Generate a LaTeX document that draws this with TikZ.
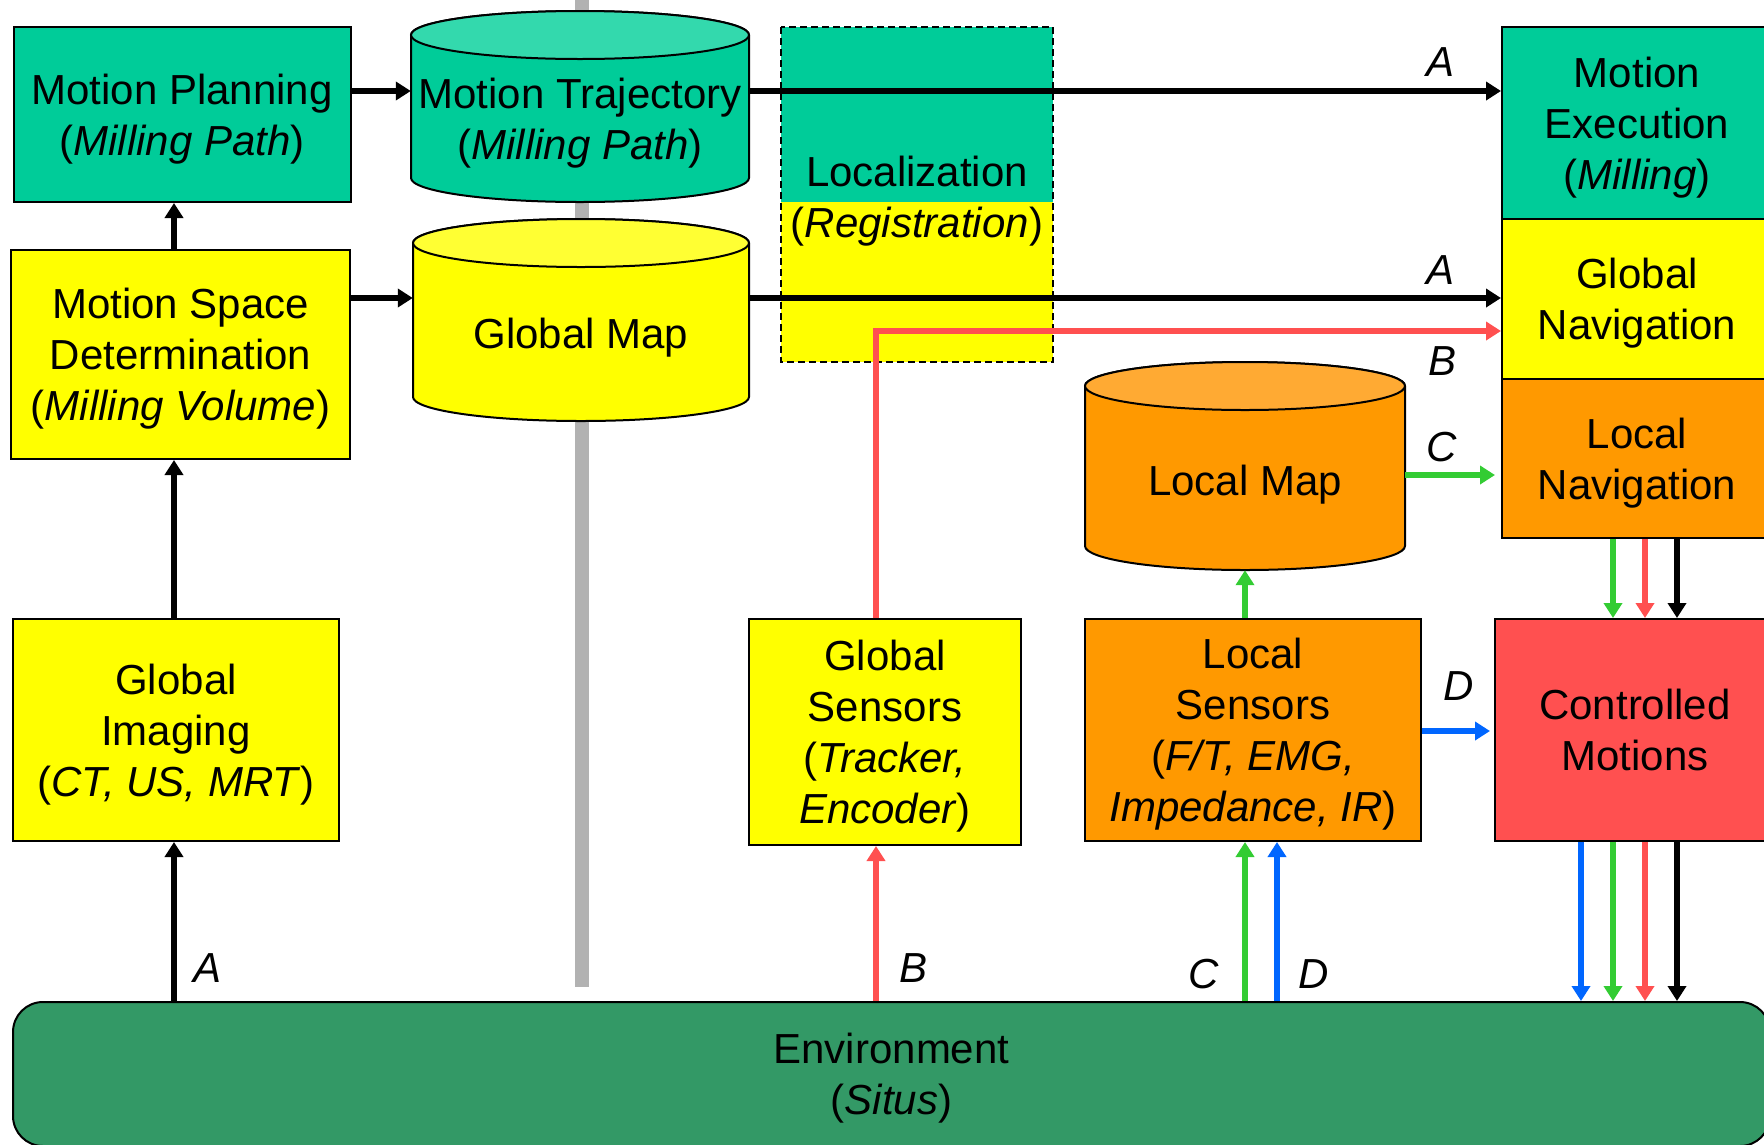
\documentclass[tikz,border=0pt]{standalone}
\usepackage{fontspec}
\setmainfont{Liberation Sans}
\usetikzlibrary{arrows.meta,calc}
\definecolor{teal1}{RGB}{0,204,153}
\definecolor{teal2}{RGB}{51,217,173}
\definecolor{yellow1}{RGB}{255,255,0}
\definecolor{yellow2}{RGB}{255,255,51}
\definecolor{orange1}{RGB}{255,153,0}
\definecolor{orange2}{RGB}{255,170,51}
\definecolor{red1}{RGB}{255,80,80}
\definecolor{green1}{RGB}{51,153,102}
\definecolor{green2}{RGB}{51,204,51}
\definecolor{blue1}{RGB}{0,102,255}
\definecolor{gray1}{RGB}{178,178,178}
\tikzset{
    box/.style={draw, line width=2pt, inner sep=0pt, align=center, text depth=-2pt, font=\fontsize{42}{51}\selectfont},
    txt/.style={inner sep=0pt, align=center, text depth=-2pt, font=\fontsize{42}{51}\selectfont},
    lbl/.style={inner sep=0pt, font=\fontsize{42}{51}\selectfont\itshape},
    arr/.style={line width=6pt, -{Triangle[length=15pt,width=18pt]}},
}

\begin{document}
\begin{tikzpicture}[x=1pt, y=-1pt]
    \useasboundingbox (0,0) rectangle (1764,1144);
    \fill [gray1] (575,0) rectangle (589,987);

    \draw [line width=2pt, fill=teal1] (411,35) -- (411,178) arc [start angle=180, end angle=360, x radius=169pt, y radius=24pt] -- (749,35) arc [start angle=0, end angle=180, x radius=169pt, y radius=24pt] -- cycle;
    \draw [line width=2pt, fill=teal2] (580,35) ellipse [x radius=169pt, y radius=24pt];
    \node [txt, minimum width=338pt, minimum height=166pt] (traj) at (580,119) {Motion Trajectory\\(\textit{Milling Path})};

    \draw [line width=2pt, fill=yellow1] (413,243) -- (413,397) arc [start angle=180, end angle=360, x radius=168pt, y radius=24pt] -- (749,243) arc [start angle=0, end angle=180, x radius=168pt, y radius=24pt] -- cycle;
    \draw [line width=2pt, fill=yellow2] (581,243) ellipse [x radius=168pt, y radius=24pt];
    \node [txt, minimum width=336pt, minimum height=176pt] (gmap) at (581,333) {Global Map};

    \draw [line width=2pt, fill=orange1] (1085,386) -- (1085,546) arc [start angle=180, end angle=360, x radius=160pt, y radius=24pt] -- (1405,386) arc [start angle=0, end angle=180, x radius=160pt, y radius=24pt] -- cycle;
    \draw [line width=2pt, fill=orange2] (1245,386) ellipse [x radius=160pt, y radius=24pt];
    \node [txt, minimum width=320pt, minimum height=180pt] (lmap) at (1245,480) {Local Map};

    \fill [teal1] (781,27) rectangle (1053,202);
    \fill [yellow1] (781,202) rectangle (1053,362);
    \draw [line width=1.5pt, dash pattern=on 7pt off 4pt] (781,27) rectangle (1053,362);
    \node [txt] (loc) at (917,197) {Localization\\(\textit{Registration})};

    \node [box, fill=teal1, minimum width=337pt, minimum height=175pt] (plan) at (182,114.5) {Motion Planning\\(\textit{Milling Path})};
    \node [box, fill=yellow1, minimum width=339pt, minimum height=209pt] (space) at (180.5,354.5) {Motion Space\\Determination\\(\textit{Milling Volume})};
    \node [box, fill=yellow1, minimum width=326pt, minimum height=222pt] (imaging) at (176,730) {Global\\Imaging\\(\textit{CT, US, MRT})};
    \node [box, fill=yellow1, minimum width=272pt, minimum height=226pt] (gsens) at (885,732) {Global\\Sensors\\(\textit{Tracker,}\\\textit{Encoder})};
    \node [box, fill=orange1, minimum width=336pt, minimum height=222pt] (lsens) at (1253,730) {Local\\Sensors\\(\textit{F/T, EMG,}\\\textit{Impedance, IR})};
    \node [box, fill=teal1, minimum width=270pt, minimum height=192pt] (exec) at (1637,123) {Motion\\Execution\\(\textit{Milling})};
    \node [box, fill=yellow1, minimum width=270pt, minimum height=160pt] (gnav) at (1637,299) {Global\\Navigation};
    \node [box, fill=orange1, minimum width=270pt, minimum height=159pt] (lnav) at (1637,458.5) {Local\\Navigation};
    \node [box, fill=red1, minimum width=280pt, minimum height=222pt] (ctrl) at (1635,730) {Controlled\\Motions};
    \node [box, fill=green1, rounded corners=30pt, minimum width=1757pt, minimum height=144pt] (env) at (891.5,1074) {Environment\\(\textit{Situs})};

    \draw [arr] (plan.east |- 0,91) -- (traj.west |- 0,91);
    \draw [arr] (traj.east |- 0,91) -- (exec.west |- 0,91);
    \draw [arr] (space.east |- 0,298) -- (gmap.west |- 0,298);
    \draw [arr] (gmap.east |- 0,298) -- (gnav.west |- 0,298);
    \draw [arr] (env.north -| 174,0) -- (imaging.south -| 174,0);
    \draw [arr] (imaging.north -| 174,0) -- (space.south -| 174,0);
    \draw [arr] (space.north -| 174,0) -- (plan.south -| 174,0);

    \draw [arr, red1] (env.north -| 876,0) -- (gsens.south -| 876,0);
    \draw [arr, red1] (gsens.north -| 876,0) |- (gnav.west |- 0,331);
    \draw [arr, green2, shorten >=6pt] (lmap.east |- 0,475) -- (lnav.west |- 0,475);
    \draw [arr, green2] (lsens.north -| lmap) -- (lmap.south);
    \draw [arr, blue1, shorten >=4pt] (lsens.east |- 0,731) -- (ctrl.west |- 0,731);
    \draw [arr, green2] (env.north -| 1245,0) -- (lsens.south -| 1245,0);
    \draw [arr, blue1] (env.north -| 1277,0) -- (lsens.south -| 1277,0);
    \foreach \x/\c in {1613/green2, 1645/red1, 1677/black}
        \draw [arr, \c] (lnav.south -| \x,0) -- (ctrl.north -| \x,0);
    \foreach \x/\c in {1581/blue1, 1613/green2, 1645/red1, 1677/black}
        \draw [arr, \c] (ctrl.south -| \x,0) -- (env.north -| \x,0);

    \node [lbl] (a1) at (1440,62) {A};
    \node [lbl] (a2) at (1440,270) {A};
    \node [lbl] (b1) at (1442,361) {B};
    \node [lbl] (c1) at (1442,447) {C};
    \node [lbl] (d1) at (1459,686) {D};
    \node [lbl] (a3) at (208,968) {A};
    \node [lbl] (b2) at (913,968) {B};
    \node [lbl] (c2) at (1204,974) {C};
    \node [lbl] (d2) at (1314,974) {D};
\end{tikzpicture}
\end{document}
